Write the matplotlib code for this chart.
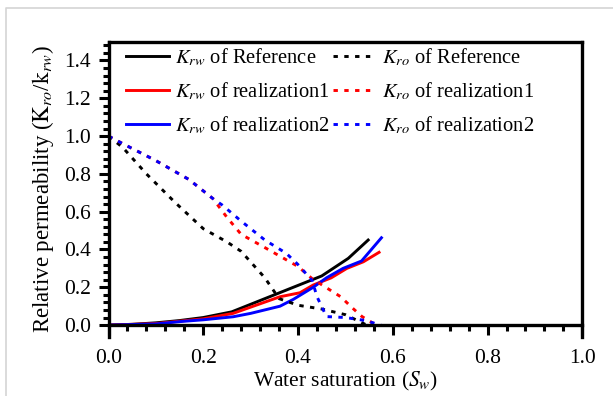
import matplotlib
matplotlib.use("Agg")
import matplotlib.pyplot as plt
import numpy as np
from matplotlib.ticker import MultipleLocator, FixedLocator, FormatStrFormatter
from matplotlib.lines import Line2D

plt.rcParams['font.family'] = ['Liberation Serif', 'DejaVu Serif']
plt.rcParams['mathtext.fontset'] = 'stix'

# water relative permeability curves
sw_krw_ref = [0, 0.05, 0.10, 0.15, 0.20, 0.26, 0.30, 0.35, 0.40, 0.45, 0.506, 0.548]
krw_ref = [0, 0.004, 0.012, 0.024, 0.040, 0.070, 0.110, 0.160, 0.210, 0.260, 0.353, 0.450]

sw_krw_r1 = [0, 0.10, 0.20, 0.263, 0.30, 0.362, 0.404, 0.432, 0.47, 0.503, 0.538, 0.571]
krw_r1 = [0, 0.008, 0.033, 0.062, 0.095, 0.150, 0.171, 0.212, 0.250, 0.300, 0.335, 0.385]

sw_krw_r2 = [0, 0.10, 0.158, 0.20, 0.263, 0.30, 0.362, 0.39, 0.432, 0.46, 0.495, 0.534, 0.576]
krw_r2 = [0, 0.006, 0.020, 0.028, 0.044, 0.062, 0.100, 0.136, 0.200, 0.250, 0.300, 0.339, 0.462]

# oil relative permeability curves
sw_kro_ref = [0, 0.03, 0.08, 0.14, 0.20, 0.25, 0.28, 0.33, 0.36, 0.40, 0.45, 0.50, 0.545]
kro_ref = [1.0, 0.94, 0.80, 0.65, 0.51, 0.44, 0.39, 0.25, 0.14, 0.105, 0.085, 0.055, 0.0]

sw_kro_r1 = [0, 0.03, 0.10, 0.17, 0.22, 0.25, 0.28, 0.33, 0.40, 0.43, 0.49, 0.515, 0.535, 0.565]
kro_r1 = [1.0, 0.96, 0.87, 0.77, 0.67, 0.57, 0.48, 0.41, 0.31, 0.245, 0.15, 0.09, 0.045, 0.0]

sw_kro_r2 = [0, 0.03, 0.10, 0.17, 0.22, 0.24, 0.28, 0.33, 0.375, 0.40, 0.43, 0.44, 0.46, 0.50, 0.54, 0.575]
kro_r2 = [1.0, 0.96, 0.87, 0.77, 0.67, 0.635, 0.55, 0.45, 0.38, 0.32, 0.235, 0.15, 0.045, 0.04, 0.025, 0.0]

fig = plt.figure(figsize=(6.13, 3.96), dpi=100)
ax = fig.add_axes([0.177, 0.149, 0.773, 0.746])

lw = 2.1
dot = (0, (1.5, 2.2))
ax.plot(sw_krw_ref, krw_ref, color='black', lw=lw, label=r'$K_{rw}$ of Reference')
ax.plot(sw_krw_r1, krw_r1, color='red', lw=lw, label=r'$K_{rw}$ of realization1')
ax.plot(sw_krw_r2, krw_r2, color='blue', lw=lw, label=r'$K_{rw}$ of realization2')
ax.plot(sw_kro_ref, kro_ref, color='black', lw=lw, ls=dot, label=r'$K_{ro}$ of Reference')
ax.plot(sw_kro_r1, kro_r1, color='red', lw=lw, ls=dot, label=r'$K_{ro}$ of realization1')
ax.plot(sw_kro_r2, kro_r2, color='blue', lw=lw, ls=dot, label=r'$K_{ro}$ of realization2')

ax.set_xlim(0, 1.0)
ax.set_ylim(-0.063, 1.5)
ax.spines['bottom'].set_position(('data', 0))
for s in ax.spines.values():
    s.set_linewidth(2.4)

ax.xaxis.set_major_locator(MultipleLocator(0.2))
ax.xaxis.set_minor_locator(MultipleLocator(0.04))
ax.yaxis.set_major_locator(FixedLocator(np.arange(0, 1.41, 0.2)))
ax.yaxis.set_minor_locator(FixedLocator(np.arange(0, 1.49, 0.04)))
ax.xaxis.set_major_formatter(FormatStrFormatter('%.1f'))
ax.yaxis.set_major_formatter(FormatStrFormatter('%.1f'))

ax.tick_params(which='both', direction='out', width=2.2, top=False, right=False,
               labelsize=15.5)
ax.tick_params(which='major', length=7.5)
ax.tick_params(which='minor', length=4.5)
ax.tick_params(axis='x', which='major', pad=10)
ax.tick_params(axis='y', which='major', pad=5)

ax.set_xlabel(r'Water saturation ($S_w$)', fontsize=15.5, labelpad=1)
ax.set_ylabel(r'Relative permeability ($\mathrm{K}_{ro}$/$\mathrm{k}_{rw}$)',
              fontsize=16.5, labelpad=6)

ax.legend(ncol=2, frameon=False, loc='upper left', bbox_to_anchor=(0.019, 1.012),
          fontsize=14.8, handlelength=2.1, handletextpad=0.3, columnspacing=0.15,
          labelspacing=0.6, borderaxespad=0.0)

# thin grey page border on the top and left edges
fig.add_artist(Line2D([6 / 613, 6 / 613, 1.0], [0.0, 1 - 8 / 396, 1 - 8 / 396],
                      transform=fig.transFigure, color='#d4d4d4', lw=1.2))

fig.savefig('out.png', dpi=100)
